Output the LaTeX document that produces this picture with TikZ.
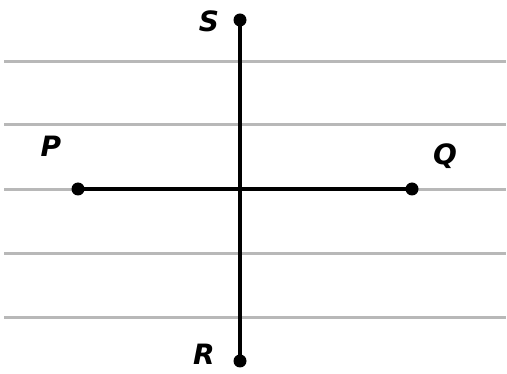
\documentclass[tikz,border=0pt]{standalone}
\usepackage{fontspec}
\setsansfont{DejaVu Sans}
\begin{document}
\begin{tikzpicture}[x=1pt,y=-1pt,
  grid/.style={draw=black!28, line width=3pt},
  seg/.style={draw=black, line width=3.5pt},
  pt/.style={circle, fill=black, inner sep=0pt, minimum size=13pt},
  lab/.style={font=\fontsize{28}{30}\selectfont\sffamily\bfseries\itshape, inner sep=0pt}]
\useasboundingbox (0,0) rectangle (507,374);
\foreach \y/\n in {62/a,125/b,190/c,254/d,318/e}{
  \coordinate (gl\n) at (4,\y);
  \coordinate (gr\n) at (506,\y);
  \draw[grid] (gl\n) -- (gr\n);
}
\node[pt] (S) at (240,20) {};
\node[pt] (R) at (240,361) {};
\node[pt] (P) at (78,189) {};
\node[pt] (Q) at (412,189) {};
\draw[seg] (S.center) -- (R.center);
\draw[seg] (P.center) -- (Q.center);
\node[lab] (lS) at (209,21) {S};
\node[lab] (lR) at (204,354) {R};
\node[lab] (lP) at (51,146) {P};
\node[lab] (lQ) at (445,156) {Q};
\end{tikzpicture}
\end{document}
